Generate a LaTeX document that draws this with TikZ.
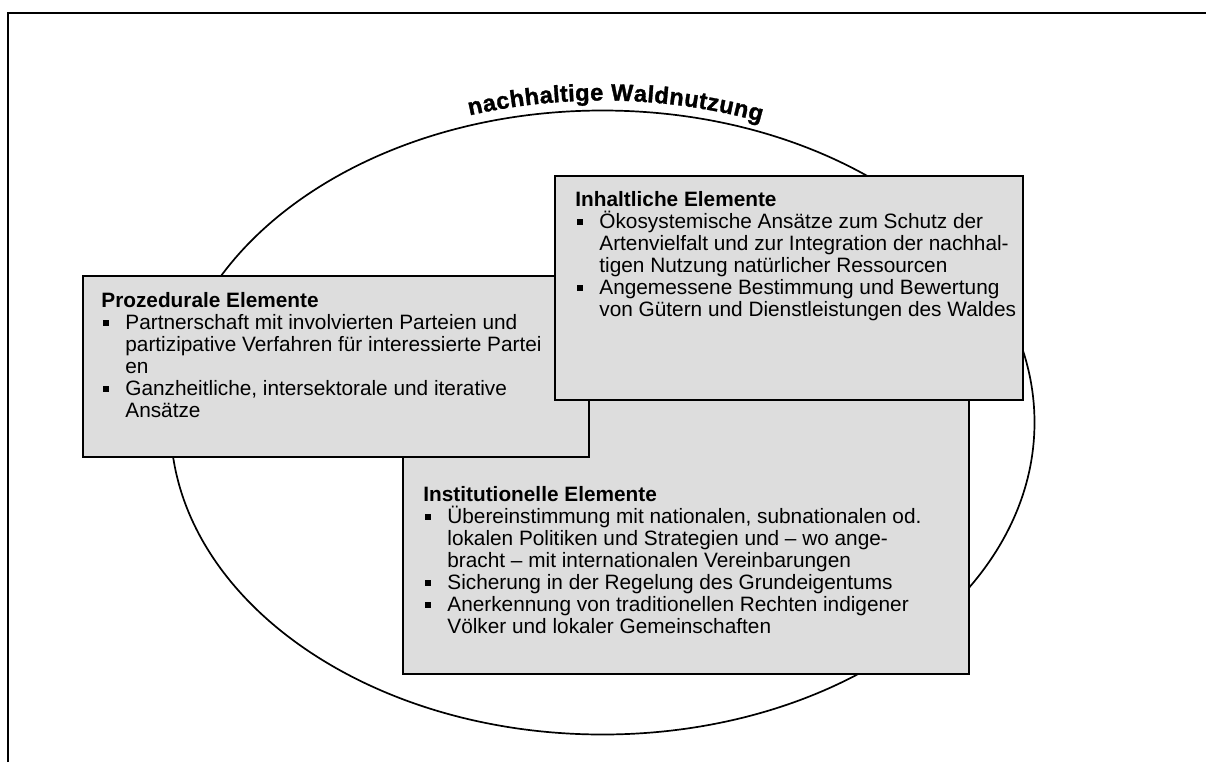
\documentclass[tikz,border=0pt]{standalone}
\usepackage{fontspec}
\setmainfont{Liberation Sans}
\newfontfamily\arcfont[FakeBold=1.3]{Liberation Sans Bold}
\usetikzlibrary{decorations.text}

\definecolor{panelgray}{RGB}{221,221,221}

% one bullet entry with hanging indent; lines broken by hand with \\
\newcommand\pitem[1]{\par\hangindent=12pt\hangafter=1\noindent
  \makebox[12pt][l]{\hspace{1pt}\rule[1.8pt]{2.8pt}{2.8pt}}#1}

\begin{document}
\begin{tikzpicture}[x=0.5pt,y=-0.5pt,
  panel/.style={draw=black, line width=1pt, fill=panelgray, inner sep=0pt},
  panelbody/.style={anchor=base west, inner sep=0pt,
    font=\fontsize{10.4}{11}\selectfont},
  frameline/.style={line width=1.2pt, draw=black},
  ovalline/.style={line width=0.85pt, draw=black}]

\useasboundingbox (0,0) rectangle (1206,762);

% outer frame (top and left edges)
\draw[frameline] (8,762) -- (8,13) -- (1206,13);

% the oval and its title
\coordinate (c) at (602.5,422.5);
\draw[ovalline] (c) ellipse [x radius=432, y radius=312];

\path[decorate, decoration={text effects along path,
    text={nachhaltige Waldnutzung},
    text effects/.cd, text along path, fit text to path,
    characters={anchor=base, inner sep=0pt,
      font=\arcfont\fontsize{11.8}{13}\selectfont}}]
  ([shift={(252.5:442 and 322)}]c) arc [start angle=252.5, end angle=291, x radius=442, y radius=322];

% institutional elements (back)
\node[panel, anchor=north west, minimum width=283pt, minimum height=146.5pt] (inst) at (402,380) {};
\node[panelbody] (instT) at ([shift={(21,121.5)}]inst.north west) {\parbox[t]{300pt}{%
  {\bfseries Institutionelle Elemente}%
  \pitem{Übereinstimmung mit nationalen, subnationalen od.\\
    lokalen Politiken und Strategien und – wo ange-\\
    bracht – mit internationalen Vereinbarungen}%
  \pitem{Sicherung in der Regelung des Grundeigentums}%
  \pitem{Anerkennung von traditionellen Rechten indigener\\
    Völker und lokaler Gemeinschaften}}};

% procedural elements
\node[panel, anchor=north west, minimum width=253pt, minimum height=90.5pt] (proz) at (82,275) {};
\node[panelbody] (prozT) at ([shift={(19,32.5)}]proz.north west) {\parbox[t]{300pt}{%
  {\bfseries Prozedurale Elemente}%
  \pitem{Partnerschaft mit involvierten Parteien und\\
    partizipative Verfahren für interessierte Partei\\
    en}%
  \pitem{Ganzheitliche, intersektorale und iterative\\
    Ansätze}}};

% content elements (front)
\node[panel, anchor=north west, minimum width=234pt, minimum height=112pt] (inh) at (554,175) {};
\node[panelbody] (inhT) at ([shift={(21,31.5)}]inh.north west) {\parbox[t]{300pt}{%
  {\bfseries Inhaltliche Elemente}%
  \pitem{Ökosystemische Ansätze zum Schutz der\\
    Artenvielfalt und zur Integration der nachhal-\\
    tigen Nutzung natürlicher Ressourcen}%
  \pitem{Angemessene Bestimmung und Bewertung\\
    von Gütern und Dienstleistungen des Waldes}}};

\end{tikzpicture}
\end{document}
